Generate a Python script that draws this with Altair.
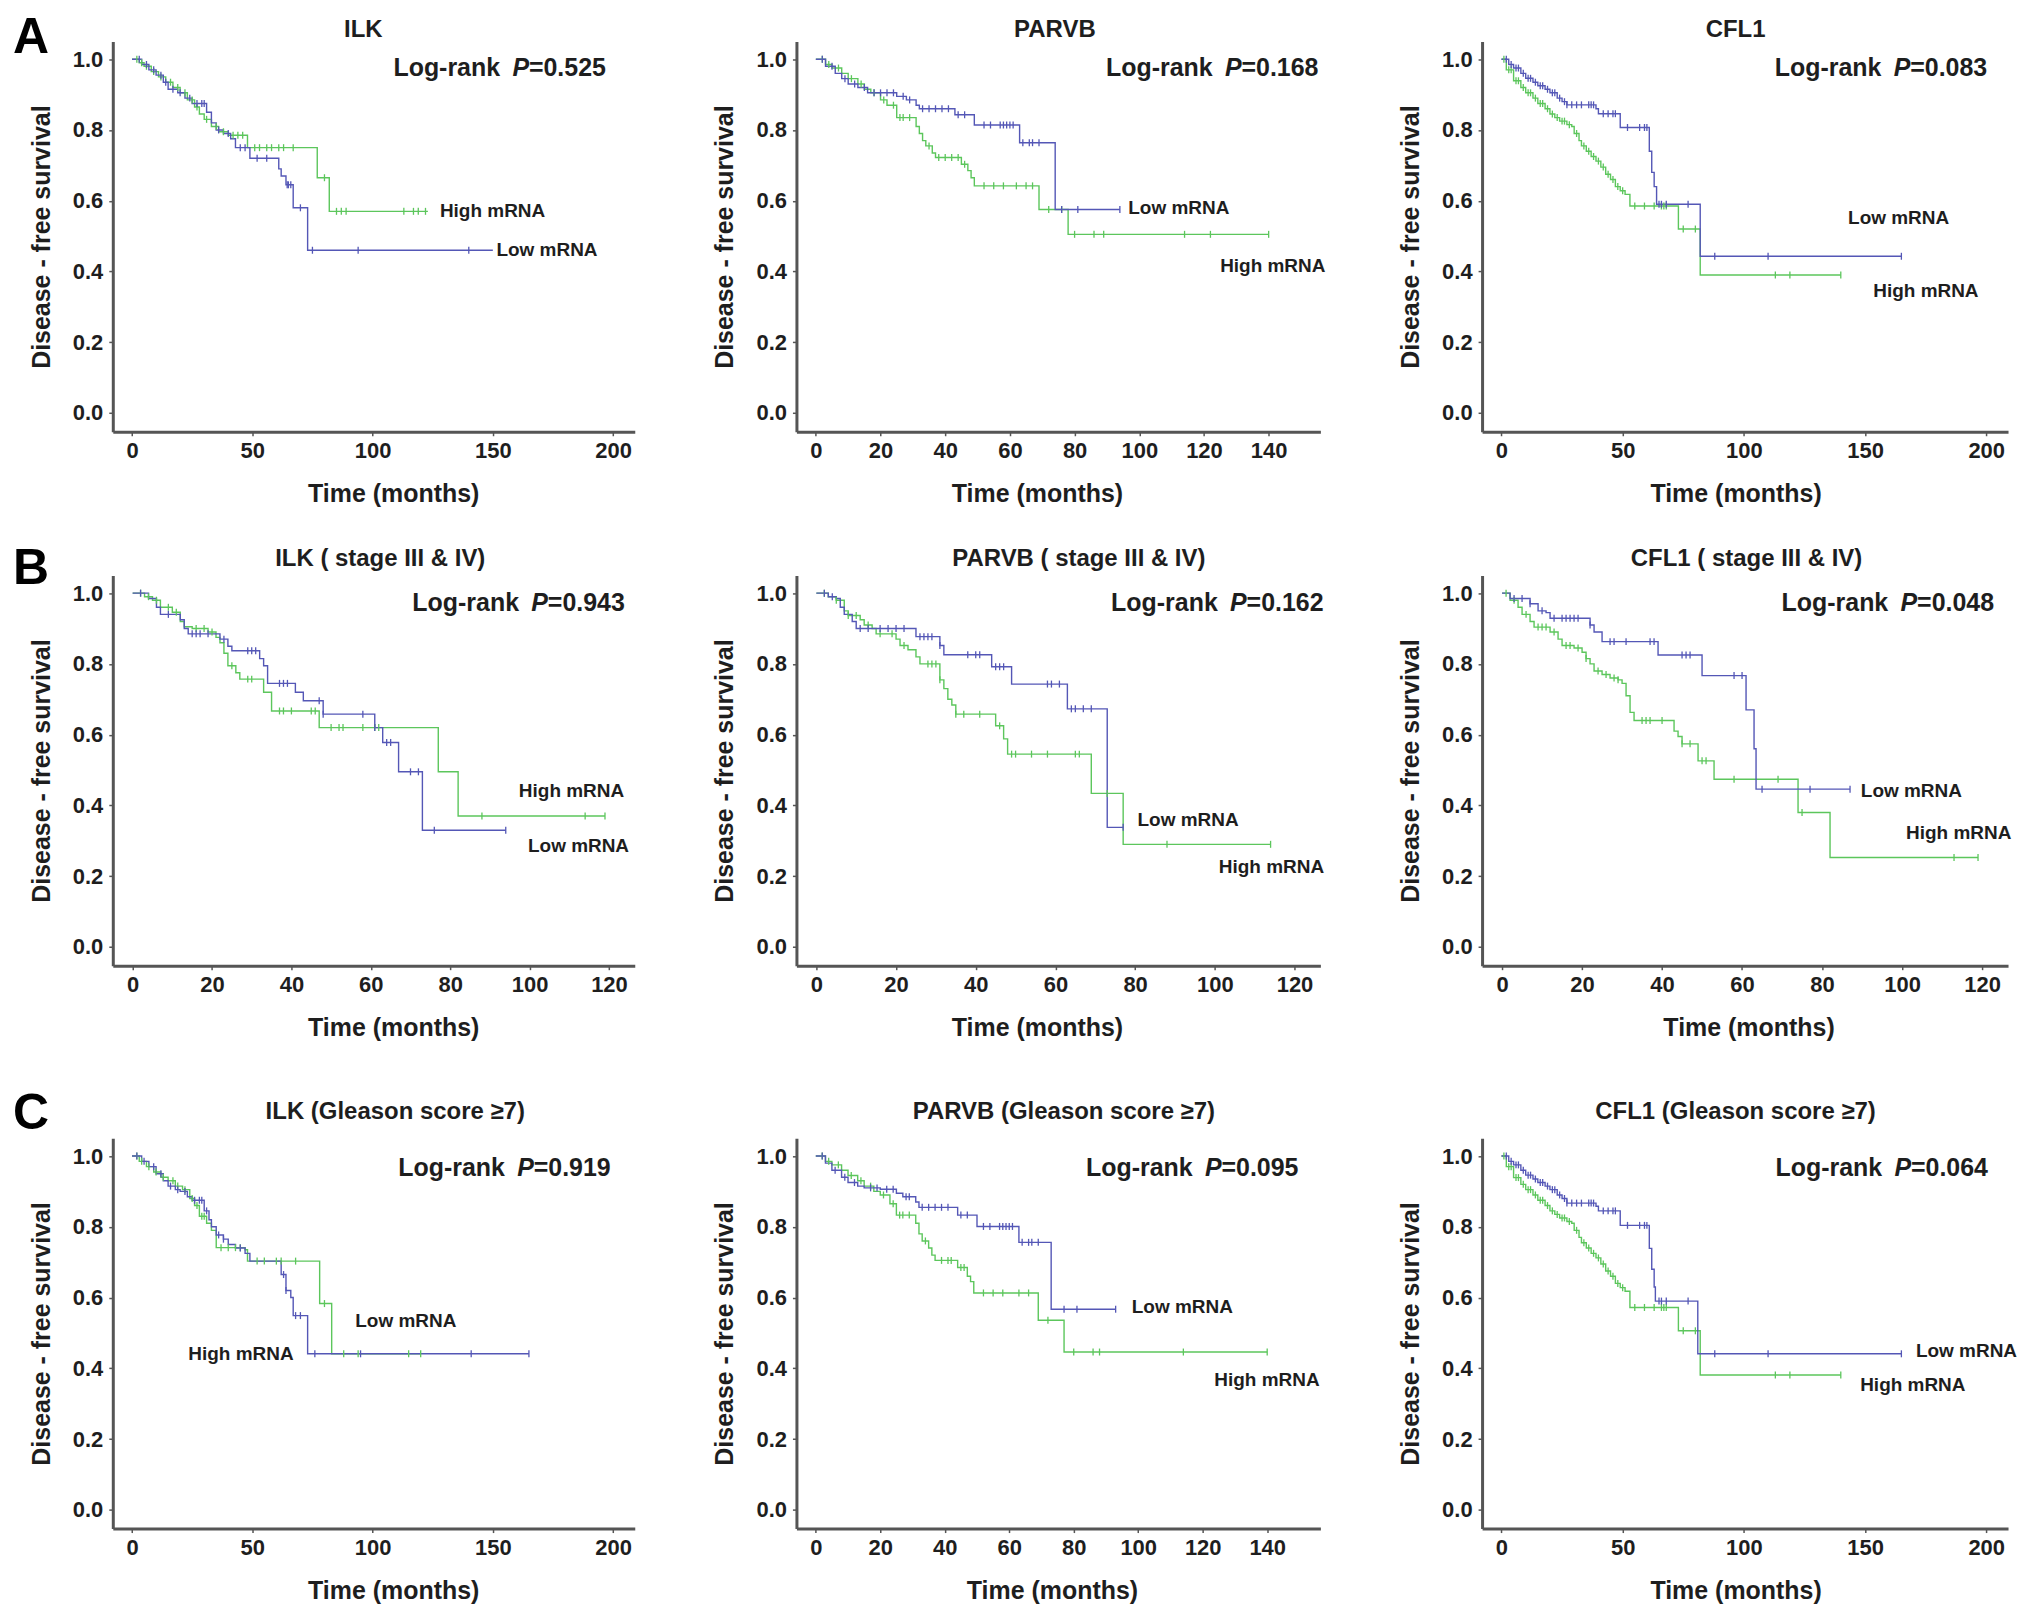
import altair as alt
import pandas as pd

GREEN = "#5cc65c"
BLUE = "#5457b6"
FONT = "Liberation Sans"
TXT = "#1e1e1e"

# ---------------- data ----------------
# A: all patients
A1_high_t = [0, 3, 5, 8, 11, 14, 17, 20, 23, 26, 28, 30, 33, 36, 40, 48, 77, 82, 123]
A1_high_s = [1.0, 0.99, 0.98, 0.965, 0.95, 0.935, 0.92, 0.905, 0.885, 0.865, 0.845, 0.83, 0.81, 0.795, 0.785, 0.75, 0.665, 0.57, 0.57]
A1_high_c = [2, 4, 6, 9, 12, 16, 19, 22, 25, 27, 31, 35, 38, 42, 44, 46, 51, 53, 56, 58, 61, 63, 67, 80, 85, 87, 89, 113, 117, 119, 122]
A1_low_t = [0, 4, 7, 10, 13, 15, 19, 22, 25, 31, 33, 35, 38, 41, 43, 49, 61, 62, 64, 67, 73, 150]
A1_low_s = [1.0, 0.985, 0.97, 0.955, 0.935, 0.915, 0.905, 0.89, 0.875, 0.85, 0.82, 0.80, 0.79, 0.775, 0.75, 0.72, 0.69, 0.67, 0.645, 0.58, 0.46, 0.46]
A1_low_c = [3, 6, 9, 12, 14, 17, 20, 24, 27, 29, 30, 36, 40, 45, 47, 52, 56, 64.5, 65, 66, 70, 75, 94, 140]

A2_low_t = [0, 3, 6, 8, 10, 13, 16, 25, 28, 31, 32, 43, 49, 63, 74, 94]
A2_low_s = [1.0, 0.98, 0.96, 0.945, 0.93, 0.92, 0.905, 0.895, 0.885, 0.87, 0.86, 0.843, 0.814, 0.764, 0.575, 0.575]
A2_low_c = [2, 5, 9, 12, 15, 18, 20, 22, 24, 27, 29, 33, 35, 37, 39, 41, 44, 46, 52, 54, 57, 58, 59, 60, 61, 64, 66, 67, 69, 76, 81, 94]
A2_high_t = [0, 3, 5, 8, 10, 13, 15, 17, 20, 22, 25, 31, 32, 33, 34, 36, 37, 45, 47, 48, 49, 69, 78, 140]
A2_high_s = [1.0, 0.985, 0.975, 0.96, 0.945, 0.93, 0.915, 0.905, 0.885, 0.87, 0.835, 0.81, 0.79, 0.77, 0.755, 0.735, 0.722, 0.703, 0.685, 0.665, 0.642, 0.575, 0.505, 0.505]
A2_high_c = [2, 4, 7, 11, 14, 18, 21, 24, 26, 27, 29, 35, 38, 40, 42, 44, 46, 52, 55, 58, 62, 65, 67, 72, 76, 80, 86, 89, 114, 122, 140]

A3_low_t = [0, 3, 5, 8, 10, 13, 15, 18, 20, 23, 25, 27, 39, 40, 49, 61, 62, 63, 64, 82, 165]
A3_low_s = [1.0, 0.985, 0.975, 0.96, 0.946, 0.935, 0.925, 0.915, 0.905, 0.89, 0.88, 0.871, 0.86, 0.846, 0.807, 0.74, 0.68, 0.64, 0.59, 0.443, 0.443]
A3_low_c = [2, 4, 6, 7, 9, 11, 12, 14, 16, 17, 19, 21, 22, 24, 26, 27, 29, 31, 33, 36, 37, 38, 42, 44, 46, 47, 52, 57, 59, 60, 65, 66, 68, 77, 88, 110, 165]
A3_high_t = [0, 2, 5, 8, 10, 13, 15, 18, 20, 22, 24, 27, 29, 30, 32, 33, 35, 37, 39, 41, 43, 45, 47, 49, 51, 53, 73, 82, 140]
A3_high_s = [1.0, 0.97, 0.939, 0.92, 0.905, 0.89, 0.875, 0.86, 0.845, 0.835, 0.825, 0.815, 0.81, 0.79, 0.77, 0.755, 0.74, 0.725, 0.712, 0.695, 0.675, 0.66, 0.64, 0.628, 0.618, 0.585, 0.52, 0.39, 0.39]
A3_high_c = [1, 3, 4, 6, 7, 9, 11, 12, 14, 16, 17, 19, 21, 23, 25, 26, 28, 31, 34, 36, 38, 40, 42, 44, 46, 48, 50, 55, 59, 63, 66, 67, 68, 75, 80, 113, 119, 140]

# B: stage III & IV
B1_low_t = [0, 4, 6, 7, 12, 13, 14, 22, 24, 25, 32, 33, 34, 41, 43, 48, 61, 63, 67, 73, 94]
B1_low_s = [1.0, 0.985, 0.96, 0.94, 0.925, 0.9, 0.885, 0.87, 0.85, 0.837, 0.815, 0.795, 0.745, 0.72, 0.696, 0.658, 0.62, 0.578, 0.495, 0.33, 0.33]
B1_low_c = [2, 9, 15, 16, 17, 19, 23, 29, 30, 31, 37, 38, 39, 47, 48, 58, 61, 64, 65, 70, 72, 76, 94]
B1_high_t = [0, 3, 5, 7, 10, 12, 13, 15, 19, 21, 22, 23, 24, 26, 27, 33, 35, 47, 77, 82, 119]
B1_high_s = [1.0, 0.99, 0.98, 0.96, 0.946, 0.92, 0.905, 0.9, 0.89, 0.875, 0.86, 0.83, 0.795, 0.775, 0.757, 0.72, 0.667, 0.62, 0.495, 0.37, 0.37]
B1_high_c = [2, 4, 6, 9, 11, 16, 18, 20, 25, 29, 30, 37, 38, 40, 45, 46, 50, 52, 53, 58, 61, 62, 88, 114, 119]

B2_low_t = [0, 3, 5, 6, 7, 9, 10, 25, 31, 32, 44, 49, 63, 73, 77]
B2_low_s = [1.0, 0.99, 0.985, 0.96, 0.94, 0.92, 0.9, 0.877, 0.852, 0.826, 0.792, 0.743, 0.673, 0.338, 0.338]
B2_low_c = [2, 4, 11, 13, 16, 18, 20, 22, 26, 27, 28, 29, 31, 38, 40, 41, 45, 46, 47, 58, 59, 61, 64, 65, 67, 69, 77]
B2_high_t = [0, 3, 5, 7, 8, 11, 12, 14, 15, 20, 21, 23, 25, 26, 31, 32, 33, 34, 35, 45, 47, 48, 69, 77, 114]
B2_high_s = [1.0, 0.99, 0.98, 0.95, 0.937, 0.925, 0.91, 0.9, 0.885, 0.87, 0.852, 0.84, 0.82, 0.8, 0.755, 0.73, 0.7, 0.684, 0.658, 0.625, 0.588, 0.545, 0.434, 0.29, 0.29]
B2_high_c = [2, 5, 8, 10, 13, 16, 19, 22, 28, 29, 30, 31, 35, 37, 41, 46, 49, 50, 54, 58, 65, 66, 73, 88, 114]

B3_low_t = [0, 2, 7, 9, 11, 12, 22, 23, 25, 39, 50, 61, 63, 63.5, 87]
B3_low_s = [1.0, 0.985, 0.97, 0.95, 0.945, 0.929, 0.91, 0.89, 0.863, 0.825, 0.767, 0.67, 0.56, 0.446, 0.446]
B3_low_c = [3, 5, 7, 10, 13, 15, 16, 17, 18, 19, 22, 27, 28, 31, 37, 38, 45, 46, 47, 58, 60, 65, 77, 87]
B3_high_t = [0, 2, 4, 5, 7, 8, 12, 14, 15, 18, 20, 21, 22, 23, 25, 27, 29, 30, 31, 32, 33, 43, 44, 45, 49, 53, 74, 82, 119]
B3_high_s = [1.0, 0.98, 0.96, 0.94, 0.92, 0.904, 0.89, 0.87, 0.852, 0.845, 0.833, 0.815, 0.8, 0.78, 0.77, 0.76, 0.755, 0.745, 0.71, 0.663, 0.64, 0.61, 0.595, 0.574, 0.526, 0.474, 0.38, 0.253, 0.253]
B3_high_c = [1, 3, 6, 9, 10, 11, 13, 16, 17, 19, 21, 24, 26, 28, 29, 35, 36, 37, 40, 45, 47, 50, 51, 58, 69, 75, 113, 119]

# C: Gleason score >= 7
C1_high_t = [0, 3, 6, 9, 12, 15, 18, 21, 24, 26, 28, 31, 33, 35, 47, 48, 78, 83, 120]
C1_high_s = [1.0, 0.985, 0.97, 0.955, 0.94, 0.93, 0.915, 0.905, 0.88, 0.86, 0.83, 0.81, 0.79, 0.741, 0.735, 0.703, 0.583, 0.441, 0.441]
C1_high_c = [2, 4, 7, 10, 13, 17, 19, 22, 25, 27, 29, 30, 37, 40, 43, 45, 52, 55, 60, 62, 68, 80, 88, 94, 115, 120]
C1_low_t = [0, 4, 7, 10, 13, 15, 18, 20, 23, 25, 30, 32, 33, 35, 38, 40, 43, 47, 49, 62, 64, 66, 67, 73, 165]
C1_low_s = [1.0, 0.985, 0.97, 0.95, 0.93, 0.915, 0.905, 0.9, 0.885, 0.875, 0.845, 0.82, 0.8, 0.777, 0.765, 0.75, 0.74, 0.725, 0.703, 0.665, 0.62, 0.6, 0.549, 0.441, 0.441]
C1_low_c = [2, 5, 9, 12, 16, 19, 22, 26, 28, 29, 31, 36, 38, 45, 63, 64, 68, 70, 76, 95, 141, 165]

C2_low_t = [0, 3, 5, 8, 10, 13, 15, 20, 25, 27, 31, 32, 44, 50, 63, 73, 93]
C2_low_s = [1.0, 0.98, 0.96, 0.94, 0.925, 0.915, 0.91, 0.906, 0.895, 0.885, 0.87, 0.855, 0.833, 0.801, 0.756, 0.567, 0.567]
C2_low_c = [2, 6, 9, 12, 17, 19, 22, 24, 28, 29, 33, 35, 37, 39, 41, 45, 47, 52, 54, 57, 58, 59, 60, 61, 64, 66, 67, 69, 77, 81, 93]
C2_high_t = [0, 3, 5, 8, 10, 13, 15, 18, 20, 23, 25, 31, 32, 33, 35, 36, 37, 44, 47, 48, 49, 69, 77, 140]
C2_high_s = [1.0, 0.985, 0.975, 0.96, 0.945, 0.93, 0.915, 0.9, 0.89, 0.865, 0.833, 0.81, 0.78, 0.76, 0.74, 0.72, 0.705, 0.685, 0.66, 0.645, 0.613, 0.536, 0.446, 0.446]
C2_high_c = [2, 4, 7, 11, 14, 17, 21, 24, 26, 27, 29, 34, 39, 41, 42, 45, 46, 52, 55, 58, 63, 66, 72, 80, 86, 88, 114, 140]

C3_low_t = [0, 3, 5, 8, 10, 13, 15, 18, 20, 23, 25, 27, 39, 40, 49, 61, 62, 63, 63.5, 81, 165]
C3_low_s = [1.0, 0.985, 0.975, 0.96, 0.946, 0.935, 0.925, 0.915, 0.905, 0.89, 0.88, 0.867, 0.858, 0.845, 0.804, 0.739, 0.68, 0.63, 0.59, 0.441, 0.441]
C3_low_c = [2, 4, 6, 7, 9, 11, 12, 14, 16, 17, 19, 21, 22, 24, 26, 27, 29, 31, 33, 36, 37, 38, 42, 44, 46, 47, 52, 57, 59, 60, 65, 66, 68, 77, 88, 110, 165]
C3_high_t = [0, 2, 5, 8, 10, 13, 15, 18, 20, 22, 24, 27, 29, 30, 32, 33, 35, 37, 39, 41, 43, 45, 47, 49, 51, 53, 73, 82, 140]
C3_high_s = [1.0, 0.97, 0.939, 0.92, 0.905, 0.89, 0.875, 0.86, 0.845, 0.835, 0.825, 0.815, 0.81, 0.79, 0.77, 0.755, 0.74, 0.725, 0.712, 0.695, 0.675, 0.66, 0.64, 0.628, 0.618, 0.572, 0.506, 0.381, 0.381]
C3_high_c = [1, 3, 4, 6, 7, 9, 11, 12, 14, 16, 17, 19, 21, 23, 25, 26, 28, 31, 34, 36, 38, 40, 42, 44, 46, 48, 50, 55, 59, 63, 66, 67, 68, 75, 80, 113, 119, 140]

titles = [
    ["ILK", "PARVB", "CFL1"],
    ["ILK ( stage III & IV)", "PARVB ( stage III & IV)", "CFL1 ( stage III & IV)"],
    ["ILK (Gleason score ≥7)", "PARVB  (Gleason score ≥7)", "CFL1 (Gleason score ≥7)"],
]
pvalues = [["0.525", "0.168", "0.083"], ["0.943", "0.162", "0.048"], ["0.919", "0.095", "0.064"]]
p_pos = [[(197, 0.975), (155.4, 0.975), (200.4, 0.975)],
         [(124, 0.972), (127.3, 0.972), (123, 0.972)],
         [(199, 0.967), (149.7, 0.967), (200.7, 0.967)]]
curve_labels = [
    [[("High mRNA", 128, 0.571), ("Low mRNA", 151.5, 0.46)],
     [("Low mRNA", 96.6, 0.58), ("High mRNA", 125, 0.415)],
     [("Low mRNA", 143, 0.552), ("High mRNA", 153.4, 0.346)]],
    [[("High mRNA", 97.3, 0.441), ("Low mRNA", 99.6, 0.285)],
     [("Low mRNA", 80.6, 0.36), ("High mRNA", 101, 0.225)],
     [("Low mRNA", 89.7, 0.441), ("High mRNA", 101, 0.323)]],
    [[("Low mRNA", 92.8, 0.533), ("High mRNA", 23.4, 0.441)],
     [("Low mRNA", 98, 0.572), ("High mRNA", 123.6, 0.368)],
     [("Low mRNA", 171, 0.45), ("High mRNA", 148, 0.353)]],
]
x_domains = [[[-8, 209], [-6, 156], [-8, 209]],
             [[-5, 126.5], [-5, 126.5], [-5, 126.5]],
             [[-8, 209], [-6, 156.5], [-8, 209]]]
x_ticks = [[[0, 50, 100, 150, 200], [0, 20, 40, 60, 80, 100, 120, 140], [0, 50, 100, 150, 200]],
           [[0, 20, 40, 60, 80, 100, 120]] * 3,
           [[0, 50, 100, 150, 200], [0, 20, 40, 60, 80, 100, 120, 140], [0, 50, 100, 150, 200]]]
y_ticks = [0.0, 0.2, 0.4, 0.6, 0.8, 1.0]
row_letters = ["A", "B", "C"]

curves = {
    (0, 0): (A1_high_t, A1_high_s, A1_high_c, A1_low_t, A1_low_s, A1_low_c),
    (0, 1): (A2_high_t, A2_high_s, A2_high_c, A2_low_t, A2_low_s, A2_low_c),
    (0, 2): (A3_high_t, A3_high_s, A3_high_c, A3_low_t, A3_low_s, A3_low_c),
    (1, 0): (B1_high_t, B1_high_s, B1_high_c, B1_low_t, B1_low_s, B1_low_c),
    (1, 1): (B2_high_t, B2_high_s, B2_high_c, B2_low_t, B2_low_s, B2_low_c),
    (1, 2): (B3_high_t, B3_high_s, B3_high_c, B3_low_t, B3_low_s, B3_low_c),
    (2, 0): (C1_high_t, C1_high_s, C1_high_c, C1_low_t, C1_low_s, C1_low_c),
    (2, 1): (C2_high_t, C2_high_s, C2_high_c, C2_low_t, C2_low_s, C2_low_c),
    (2, 2): (C3_high_t, C3_high_s, C3_high_c, C3_low_t, C3_low_s, C3_low_c),
}

# ---------------- layout parameters ----------------
WIDTHS = [523, 525, 527]
H = 391
Y_DOMAIN = [-0.053, 1.05]
title_x = [[251, 259, 254], [268, 283, 265], [283, 268, 254]]
title_y = [-5, -9, -19]
xtitle_x = [[281, 241, 254], [281, 241, 267], [281, 256, 254]]
letter_pos = [(-100, 12), (-100, 9), (-100, -9)]


def step_at(ts, ss, t):
    v = ss[0]
    for ti, si in zip(ts, ss):
        if ti <= t:
            v = si
        else:
            break
    return v


def make_panel(r, c):
    ht, hs, hc, lt, ls, lc = curves[(r, c)]
    line_rows, cens_rows = [], []
    for grp, ts, ss, cs in (("High mRNA", ht, hs, hc), ("Low mRNA", lt, ls, lc)):
        for i, (t, s) in enumerate(zip(ts, ss)):
            line_rows.append({"t": t, "s": s, "grp": grp, "i": i})
        for t in cs:
            cens_rows.append({"t": t, "s": step_at(ts, ss, t), "grp": grp})
    line_df = pd.DataFrame(line_rows)
    cens_df = pd.DataFrame(cens_rows)

    xs = alt.Scale(domain=x_domains[r][c], nice=False, zero=False)
    ys = alt.Scale(domain=Y_DOMAIN, nice=False, zero=False)
    col = alt.Color("grp:N", scale=alt.Scale(domain=["High mRNA", "Low mRNA"], range=[GREEN, BLUE]), legend=None)

    xaxis = alt.Axis(values=x_ticks[r][c], title="Time (months)", format="d", titleX=xtitle_x[r][c])
    yaxis = alt.Axis(values=y_ticks, title="Disease - free survival", format=".1f")

    lines = alt.Chart(line_df).mark_line(interpolate="step-after", strokeWidth=1.4).encode(
        x=alt.X("t:Q", scale=xs, axis=xaxis),
        y=alt.Y("s:Q", scale=ys, axis=yaxis),
        color=col,
        detail="grp:N",
        order="i:Q",
    )
    cens = alt.Chart(cens_df).mark_point(shape="M0,-1L0,1", filled=False, size=49, strokeWidth=1.3, opacity=1).encode(
        x=alt.X("t:Q", scale=xs),
        y=alt.Y("s:Q", scale=ys),
        color=col,
    )
    lab_df = pd.DataFrame([{"txt": a, "t": b, "s": d} for a, b, d in curve_labels[r][c]])
    labs = alt.Chart(lab_df).mark_text(align="left", baseline="middle", font=FONT, fontSize=19,
                                       fontWeight="bold", color=TXT).encode(
        x=alt.X("t:Q", scale=xs), y=alt.Y("s:Q", scale=ys), text="txt:N")

    px, py = p_pos[r][c]
    pdf = pd.DataFrame([{"t": px, "s": py, "a": "=" + pvalues[r][c], "b": "P", "c": "Log-rank"}])
    base_p = alt.Chart(pdf)
    p1 = base_p.mark_text(align="right", baseline="middle", font=FONT, fontSize=25, fontWeight="bold",
                          color=TXT).encode(x=alt.X("t:Q", scale=xs), y=alt.Y("s:Q", scale=ys), text="a:N")
    p2 = base_p.mark_text(align="right", baseline="middle", font=FONT, fontSize=25, fontWeight="bold",
                          fontStyle="italic", color=TXT, dx=-77).encode(
        x=alt.X("t:Q", scale=xs), y=alt.Y("s:Q", scale=ys), text="b:N")
    p3 = base_p.mark_text(align="right", baseline="middle", font=FONT, fontSize=25, fontWeight="bold",
                          color=TXT, dx=-106).encode(
        x=alt.X("t:Q", scale=xs), y=alt.Y("s:Q", scale=ys), text="c:N")

    tdf = pd.DataFrame([{"T": titles[r][c]}])
    ttl = alt.Chart(tdf).mark_text(align="center", baseline="alphabetic", font=FONT, fontSize=24,
                                   fontWeight="bold", color=TXT).encode(
        x=alt.value(title_x[r][c]), y=alt.value(title_y[r]), text="T:N")

    layers = [lines, cens, labs, p1, p2, p3, ttl]
    if c == 0:
        lx, ly = letter_pos[r]
        ldf = pd.DataFrame([{"L": row_letters[r]}])
        letter = alt.Chart(ldf).mark_text(align="left", baseline="alphabetic", font=FONT, fontSize=50,
                                          fontWeight="bold", color="#000").encode(
            x=alt.value(lx), y=alt.value(ly), text="L:N")
        layers.append(letter)

    return alt.layer(*layers).properties(width=WIDTHS[c], height=H)


def make_row(r):
    return alt.hconcat(make_panel(r, 0), make_panel(r, 1), make_panel(r, 2), spacing=162, bounds="flush")


top = alt.vconcat(make_row(0), make_row(1), spacing=38)
chart = alt.vconcat(top, make_row(2), spacing=49).configure_view(
    stroke=None
).configure_axis(
    grid=False,
    domainColor="#555555", domainWidth=3,
    tickColor="#555555", tickSize=4, tickWidth=1.5,
    labelFont=FONT, labelFontSize=22, labelFontWeight="bold", labelColor=TXT,
    titleFont=FONT, titleFontSize=25, titleFontWeight="bold", titleColor=TXT,
).configure_axisX(labelPadding=5, titlePadding=20).configure_axisY(labelPadding=6, titlePadding=18).properties(
    background="white", padding={"top": 4, "left": 5, "right": 5, "bottom": 4})

chart.save("out.html", embed_options={"renderer": "svg", "actions": False})
